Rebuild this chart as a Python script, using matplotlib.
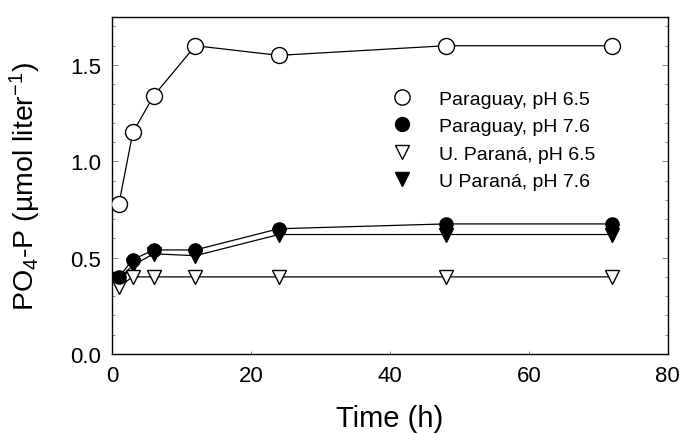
import numpy as np
from matplotlib import pyplot as plt
from matplotlib.ticker import MultipleLocator

plt.rcParams['font.family'] = ['Liberation Sans', 'DejaVu Sans']
plt.rcParams['mathtext.default'] = 'regular'

time_h = [1, 3, 6, 12, 24, 48, 72]
par_65 = [0.78, 1.15, 1.34, 1.60, 1.55, 1.60, 1.60]
par_76 = [0.40, 0.49, 0.54, 0.54, 0.65, 0.675, 0.675]
upa_65 = [0.35, 0.40, 0.40, 0.40, 0.40, 0.40, 0.40]
upa_76 = [0.39, 0.46, 0.52, 0.51, 0.62, 0.62, 0.62]
labels = ["Paraguay, pH 6.5", "Paraguay, pH 7.6", "U. Paraná, pH 6.5", "U Paraná, pH 7.6"]

fig = plt.figure(figsize=(6.85, 4.35), dpi=100)
ax = fig.add_axes([0.1635, 0.184, 0.8115, 0.775])

lw = 0.9
h1, = ax.plot(time_h, par_65, '-o', color='black', lw=lw, ms=11.5,
              mfc='white', mec='black', mew=1.0, zorder=3)
h4, = ax.plot(time_h, upa_76, '-v', color='black', lw=lw, ms=10.5,
              mfc='black', mec='black', zorder=3)
h2, = ax.plot(time_h, par_76, '-o', color='black', lw=lw, ms=9.5,
              mfc='black', mec='black', zorder=4)
h3, = ax.plot(time_h, upa_65, '-v', color='black', lw=lw, ms=10.5,
              mfc='white', mec='black', mew=1.0, zorder=3)

# legend shows markers only
leg_handles = []
for h, ms in zip([h1, h2, h3, h4], [11, 10, 10, 10]):
    lh, = ax.plot([], [], ls='none', marker=h.get_marker(), ms=ms,
                  mfc=h.get_markerfacecolor(), mec='black', mew=1.0)
    leg_handles.append(lh)
ax.legend(leg_handles, labels, loc='upper left', bbox_to_anchor=(0.491, 0.805),
          frameon=False, fontsize=14, handlelength=1.0, handletextpad=1.4,
          labelspacing=0.5, borderaxespad=0)

ax.set_xlim(0, 80)
ax.set_ylim(0, 1.75)
ax.set_xticks([0, 20, 40, 60, 80])
ax.set_yticks([0.0, 0.5, 1.0, 1.5])
ax.set_yticklabels(["0.0", "0.5", "1.0", "1.5"])
ax.yaxis.set_minor_locator(MultipleLocator(0.1))
ax.tick_params(which='both', direction='in', right=True, top=False,
               labelsize=16, width=0.6, color='#777777')
ax.tick_params(axis='x', length=2)
ax.tick_params(which='major', axis='y', length=4)
ax.tick_params(which='major', pad=8)
ax.tick_params(which='minor', length=2.5)
for s in ax.spines.values():
    s.set_linewidth(1.0)

ax.set_xlabel("Time (h)", fontsize=21, labelpad=13)
ax.set_ylabel("PO$_4$-P (µmol liter$^{-1}$)", fontsize=20.5, labelpad=19)

plt.savefig("out.png", dpi=100)
